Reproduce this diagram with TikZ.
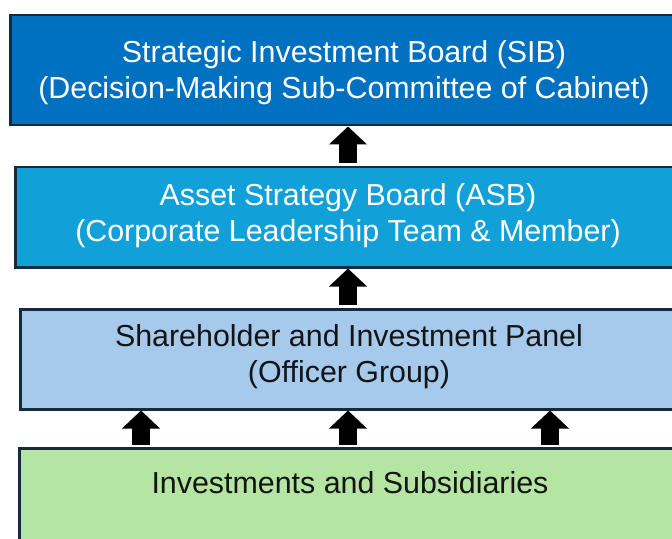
\documentclass[tikz,border=0pt]{standalone}
\usepackage{fontspec}
\setmainfont{Liberation Sans}
\usetikzlibrary{arrows.meta}
\definecolor{sibblue}{HTML}{0070C0}
\definecolor{asbblue}{HTML}{12A0D8}
\definecolor{panelblue}{HTML}{A6CAEC}
\definecolor{invgreen}{HTML}{B4E5A2}
\definecolor{edgecol}{HTML}{152A3A}
\definecolor{darktext}{HTML}{141414}
\begin{document}
\begin{tikzpicture}[x=1bp,y=-1bp,
  box/.style={draw=edgecol, line width=2.5bp, rectangle, inner sep=0pt, anchor=north west},
  boxtext/.style={font=\fontsize{30.5}{36}\selectfont, align=center, inner sep=0pt},
  uparrow/.style={draw=black, line width=18bp, line cap=butt, -{Triangle[width=37bp,length=18bp]}}]
\useasboundingbox (0,0) rectangle (672,539);
\clip (0,0) rectangle (672,539);
\fill[white] (0,0) rectangle (672,539);

\node[box, fill=sibblue, minimum width=671bp, minimum height=110bp] (sib) at (9,14) {};
\node[box, fill=asbblue, minimum width=668bp, minimum height=100bp] (asb) at (14,166) {};
\node[box, fill=panelblue, minimum width=661bp, minimum height=100bp] (panel) at (19,308) {};
\node[box, fill=invgreen, minimum width=664bp, minimum height=130bp] (inv) at (18,447) {};

\node[boxtext, text=white] (sibtext) at (344,72.4) {Strategic Investment Board (SIB)\\(Decision-Making Sub-Committee of Cabinet)};
\node[boxtext, text=white] (asbtext) at (348,215.4) {Asset Strategy Board (ASB)\\(Corporate Leadership Team \& Member)};
\node[boxtext, text=darktext] (paneltext) at (349,356.4) {Shareholder and Investment Panel\\(Officer Group)};
\node[boxtext, text=darktext] (invtext) at (350,482.5) {Investments and Subsidiaries};

\coordinate (ca) at (348,0);
\coordinate (cl) at (141,0);
\coordinate (cr) at (550,0);

\draw[uparrow, shorten <=3bp] (asb.north -| ca) -- (sib.south -| ca);
\draw[uparrow, shorten <=3bp] (panel.north -| ca) -- (asb.south -| ca);
\draw[uparrow, shorten <=2bp] (inv.north -| cl) -- (panel.south -| cl);
\draw[uparrow, shorten <=2bp] (inv.north -| ca) -- (panel.south -| ca);
\draw[uparrow, shorten <=2bp] (inv.north -| cr) -- (panel.south -| cr);
\end{tikzpicture}
\end{document}
